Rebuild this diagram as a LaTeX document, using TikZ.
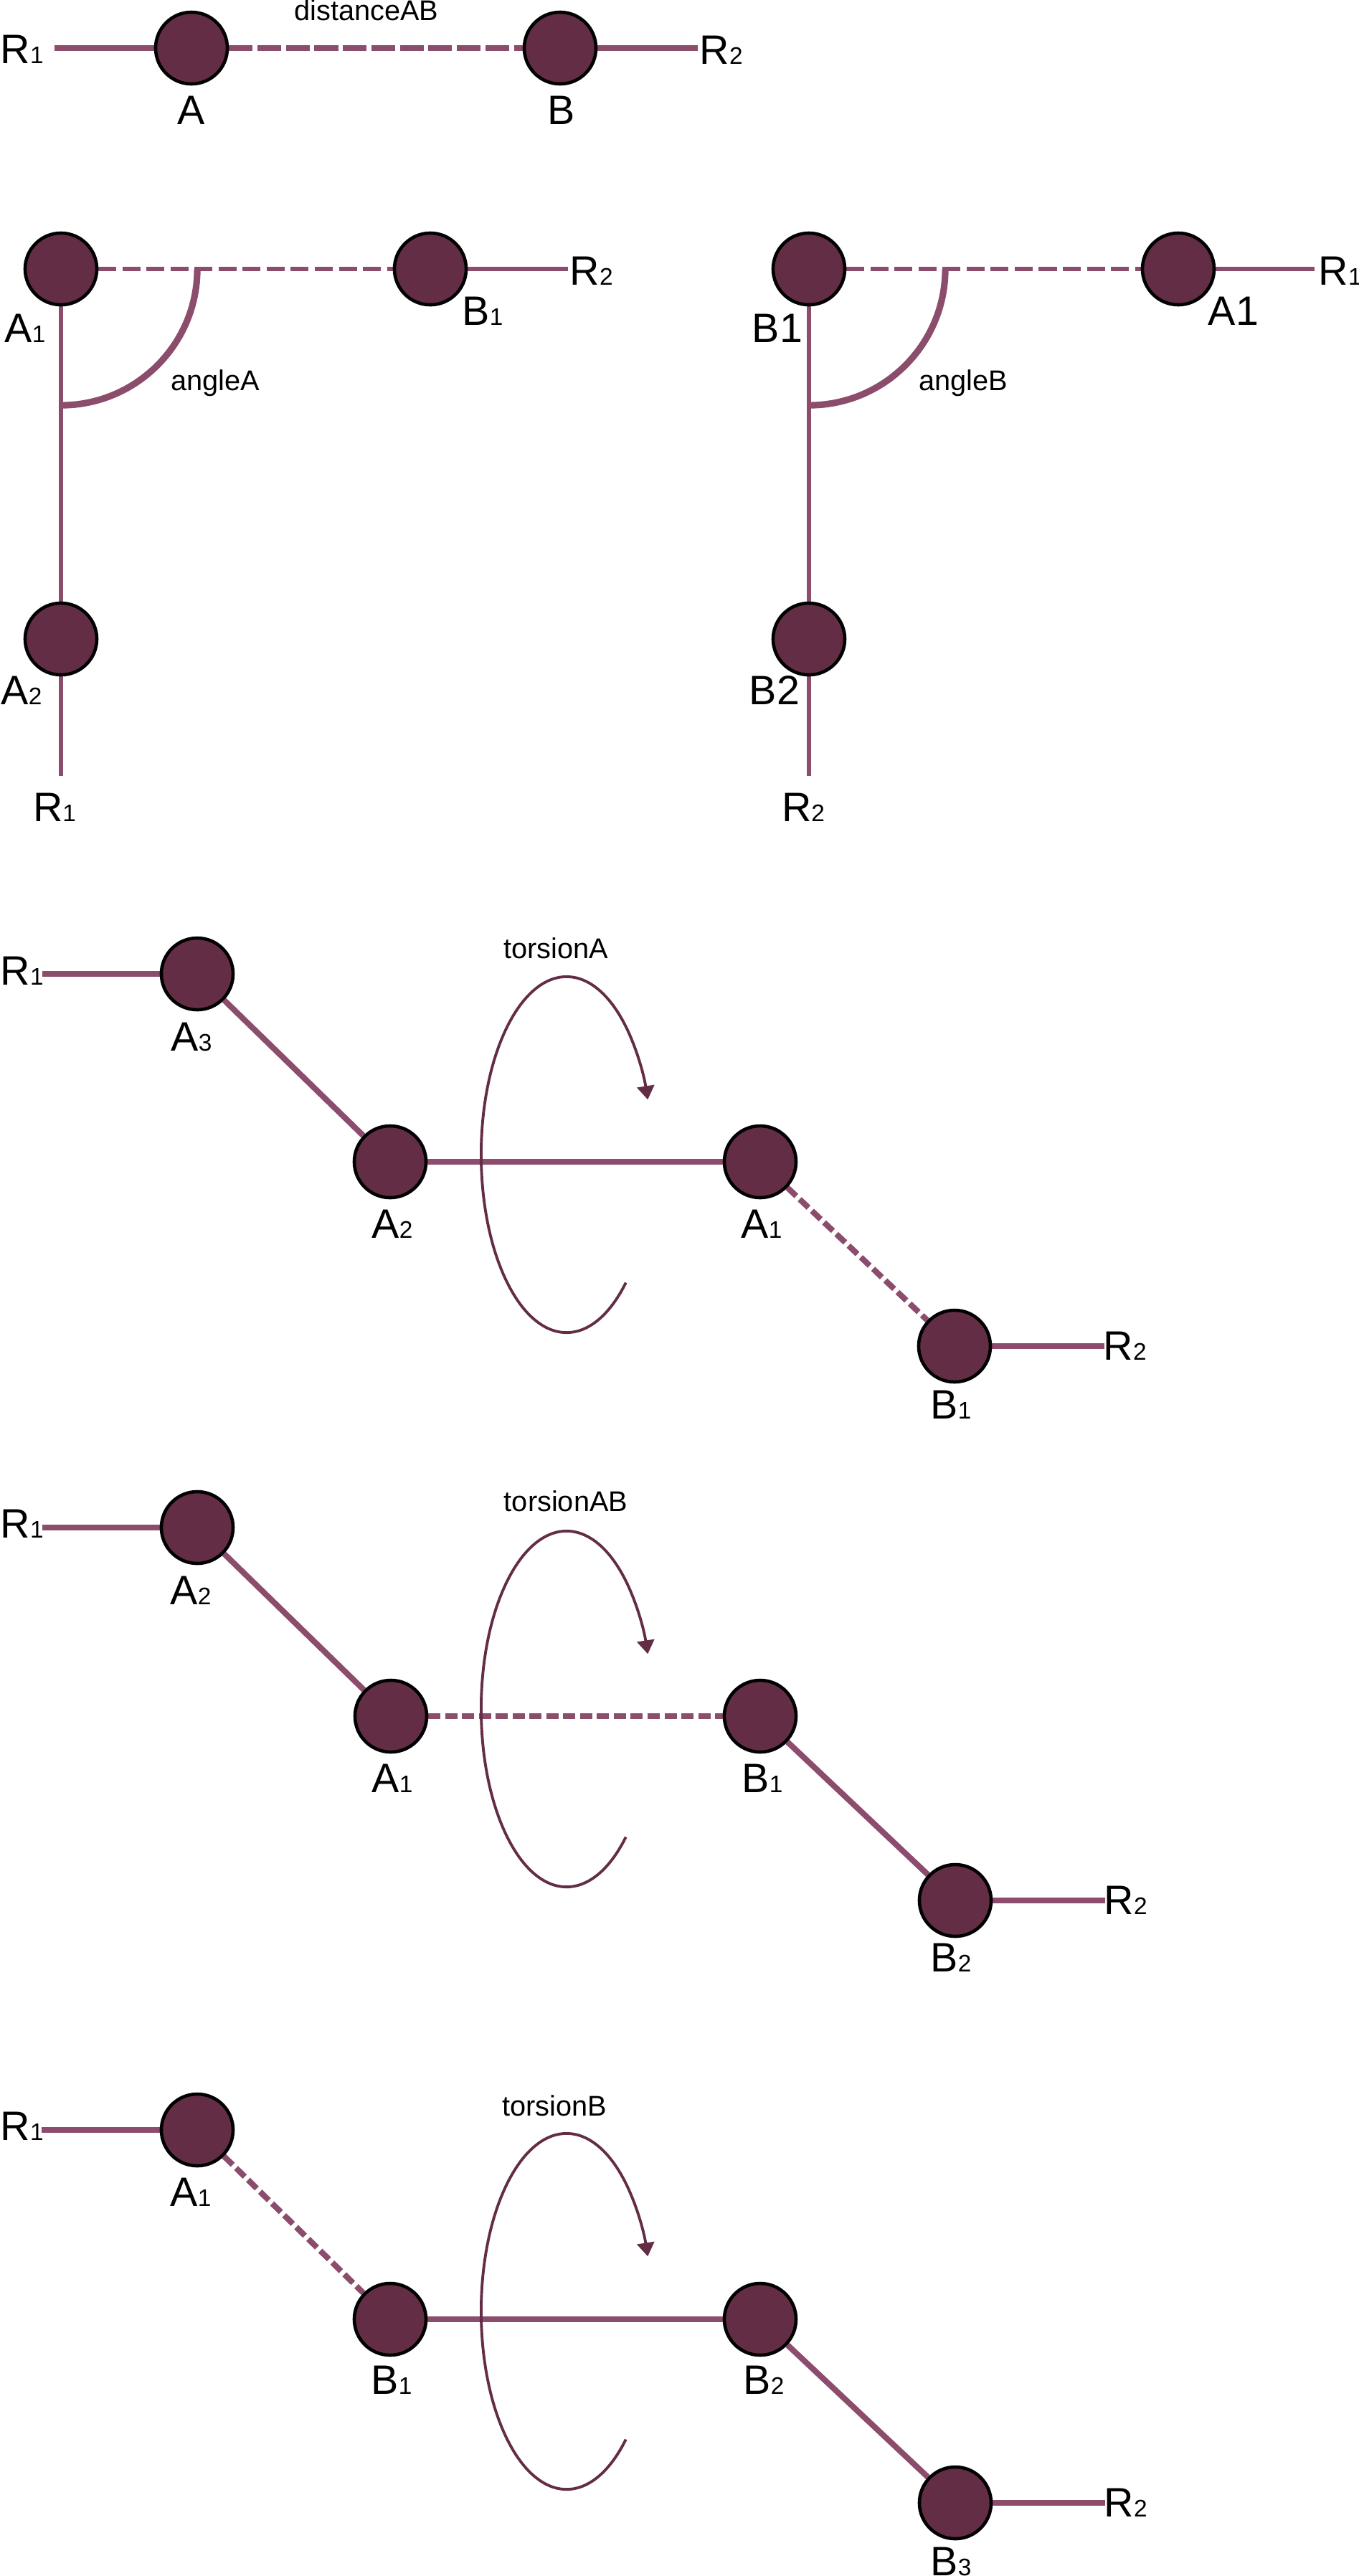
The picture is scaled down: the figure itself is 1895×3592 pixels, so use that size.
\documentclass[tikz,border=0pt]{standalone}
\usepackage{fontspec}
\setmainfont{Liberation Sans}
\usetikzlibrary{arrows.meta, backgrounds}
\definecolor{atomfill}{RGB}{99,45,70}
\definecolor{bondcol}{RGB}{140,76,108}
\newcommand{\sbs}[1]{{\fontsize{9.5}{10}\selectfont #1}}

\begin{document}
\begin{tikzpicture}[x=0.01cm, y=0.01cm,
	atom/.style={circle, draw=black, line width=1.3pt, fill=atomfill, minimum size=1cm, inner sep=0pt},
	bond/.style={draw=bondcol, line width=2.3pt},
	thin bond/.style={draw=bondcol, line width=1.6pt},
	long dashes/.style={dash pattern=on 0.33cm off 0.067cm},
	mid dashes/.style={dash pattern=on 0.25cm off 0.085cm},
	short dashes/.style={dash pattern=on 0.17cm off 0.065cm},
	angle mark/.style={draw=bondcol, line width=2.6pt},
	twist/.style={draw=atomfill, line width=1.1pt, -{Triangle[length=0.19cm, width=0.24cm]}},
	lbl/.style={font=\fontsize{16.3}{18}\selectfont, inner sep=0pt, anchor=base},
	note/.style={font=\fontsize{11.3}{13}\selectfont, inner sep=0pt, anchor=base}]
	\useasboundingbox (0,0) rectangle (1895,-3592);

	% distanceAB
	\node[atom] (dA) at (267,-67) {};
	\node[atom] (dB) at (781,-67) {};
	\coordinate (dR1) at (76,-67);
	\coordinate (dR2) at (973,-67);
	\node[lbl, anchor=base west] (dR1l) at (0,-88) {R\sbs{1}};
	\node[lbl] (dAl) at (267,-173) {A};
	\node[lbl] (dBl) at (783,-173) {B};
	\node[lbl, anchor=base west] (dR2l) at (975,-89) {R\sbs{2}};
	\node[note] (dist) at (511,-28) {distanceAB};
	\begin{scope}[on background layer]
		\draw[bond] (dR1) -- (dA);
		\draw[bond, long dashes] (dA) -- (dB);
		\draw[bond] (dB) -- (dR2);
	\end{scope}

	% angleA
	\node[atom] (aA1) at (85,-375) {};
	\node[atom] (aB1) at (600,-375) {};
	\node[atom] (aA2) at (85,-891) {};
	\coordinate (aR2) at (792,-375);
	\coordinate (aR1) at (85,-1082);
	\node[lbl] (aA1l) at (35,-477) {A\sbs{1}};
	\node[lbl] (aB1l) at (673,-453) {B\sbs{1}};
	\node[lbl] (aA2l) at (30,-982) {A\sbs{2}};
	\node[lbl, anchor=base west] (aR2l) at (794,-397) {R\sbs{2}};
	\node[lbl] (aR1l) at (76,-1145) {R\sbs{1}};
	\node[note] (angA) at (300,-544) {angleA};
	\begin{scope}[on background layer]
		\draw[thin bond, mid dashes] (aA1) -- (aB1);
		\draw[thin bond] (aB1) -- (aR2);
		\draw[thin bond] (aA1) -- (aA2);
		\draw[thin bond] (aA2) -- (aR1);
	\end{scope}
	\draw[angle mark] (aA1.center) ++(1.9cm,0) arc[start angle=0, end angle=-90, radius=1.9cm];

	% angleB
	\node[atom] (bB1) at (1128,-375) {};
	\node[atom] (bA1) at (1643,-375) {};
	\node[atom] (bB2) at (1128,-891) {};
	\coordinate (bR1) at (1833,-375);
	\coordinate (bR2) at (1128,-1082);
	\node[lbl] (bB1l) at (1084,-477) {B1};
	\node[lbl] (bA1l) at (1720,-453) {A1};
	\node[lbl] (bB2l) at (1080,-982) {B2};
	\node[lbl, anchor=base west] (bR1l) at (1838,-397) {R\sbs{1}};
	\node[lbl] (bR2l) at (1120,-1145) {R\sbs{2}};
	\node[note] (angB) at (1343,-544) {angleB};
	\begin{scope}[on background layer]
		\draw[thin bond, mid dashes] (bB1) -- (bA1);
		\draw[thin bond] (bA1) -- (bR1);
		\draw[thin bond] (bB1) -- (bB2);
		\draw[thin bond] (bB2) -- (bR2);
	\end{scope}
	\draw[angle mark] (bB1.center) ++(1.9cm,0) arc[start angle=0, end angle=-90, radius=1.9cm];

	% torsionA
	\node[atom] (taA3) at (275,-1358) {};
	\node[atom] (taA2) at (544,-1620) {};
	\node[atom] (taA1) at (1060,-1620) {};
	\node[atom] (taB1) at (1331,-1877) {};
	\coordinate (taR1) at (59,-1358);
	\coordinate (taR2) at (1540,-1877);
	\coordinate (taAxis) at (790,-1610);
	\node[lbl, anchor=base west] (taR1l) at (0,-1373) {R\sbs{1}};
	\node[lbl] (taA3l) at (267,-1465) {A\sbs{3}};
	\node[lbl] (taA2l) at (547,-1726) {A\sbs{2}};
	\node[lbl] (taA1l) at (1062,-1726) {A\sbs{1}};
	\node[lbl] (taB1l) at (1326,-1978) {B\sbs{1}};
	\node[lbl, anchor=base west] (taR2l) at (1538,-1896) {R\sbs{2}};
	\node[note] (torA) at (775,-1336) {torsionA};
	\begin{scope}[on background layer]
		\draw[bond] (taR1) -- (taA3);
		\draw[bond] (taA3) -- (taA2);
		\draw[bond] (taA2) -- (taA1);
		\draw[bond, short dashes] (taA1) -- (taB1);
		\draw[bond] (taB1) -- (taR2);
	\end{scope}
	\draw[twist] (taAxis) ++(-46:1.19cm and 2.48cm) arc[start angle=-46, end angle=-342, x radius=1.19cm, y radius=2.48cm];

	% torsionAB
	\node[atom] (tabA2) at (275,-2130) {};
	\node[atom] (tabA1) at (545,-2393) {};
	\node[atom] (tabB1) at (1060,-2393) {};
	\node[atom] (tabB2) at (1332,-2650) {};
	\coordinate (tabR1) at (59,-2130);
	\coordinate (tabR2) at (1541,-2650);
	\coordinate (tabAxis) at (790,-2383);
	\node[lbl, anchor=base west] (tabR1l) at (0,-2144) {R\sbs{1}};
	\node[lbl] (tabA2l) at (266,-2237) {A\sbs{2}};
	\node[lbl] (tabA1l) at (547,-2499) {A\sbs{1}};
	\node[lbl] (tabB1l) at (1063,-2499) {B\sbs{1}};
	\node[lbl] (tabB2l) at (1326,-2749) {B\sbs{2}};
	\node[lbl, anchor=base west] (tabR2l) at (1539,-2669) {R\sbs{2}};
	\node[note] (torAB) at (789,-2107) {torsionAB};
	\begin{scope}[on background layer]
		\draw[bond] (tabR1) -- (tabA2);
		\draw[bond] (tabA2) -- (tabA1);
		\draw[bond, short dashes] (tabA1) -- (tabB1);
		\draw[bond] (tabB1) -- (tabB2);
		\draw[bond] (tabB2) -- (tabR2);
	\end{scope}
	\draw[twist] (tabAxis) ++(-46:1.19cm and 2.48cm) arc[start angle=-46, end angle=-342, x radius=1.19cm, y radius=2.48cm];

	% torsionB
	\node[atom] (tbA1) at (275,-2970) {};
	\node[atom] (tbB1) at (544,-3234) {};
	\node[atom] (tbB2) at (1060,-3234) {};
	\node[atom] (tbB3) at (1332,-3490) {};
	\coordinate (tbR1) at (58,-2970);
	\coordinate (tbR2) at (1541,-3490);
	\coordinate (tbAxis) at (790,-3223);
	\node[lbl, anchor=base west] (tbR1l) at (0,-2984) {R\sbs{1}};
	\node[lbl] (tbA1l) at (266,-3076) {A\sbs{1}};
	\node[lbl] (tbB1l) at (546,-3338) {B\sbs{1}};
	\node[lbl] (tbB2l) at (1065,-3338) {B\sbs{2}};
	\node[lbl] (tbB3l) at (1326,-3591) {B\sbs{3}};
	\node[lbl, anchor=base west] (tbR2l) at (1539,-3509) {R\sbs{2}};
	\node[note] (torB) at (773,-2950) {torsionB};
	\begin{scope}[on background layer]
		\draw[bond] (tbR1) -- (tbA1);
		\draw[bond, short dashes] (tbA1) -- (tbB1);
		\draw[bond] (tbB1) -- (tbB2);
		\draw[bond] (tbB2) -- (tbB3);
		\draw[bond] (tbB3) -- (tbR2);
	\end{scope}
	\draw[twist] (tbAxis) ++(-46:1.19cm and 2.48cm) arc[start angle=-46, end angle=-342, x radius=1.19cm, y radius=2.48cm];
\end{tikzpicture}
\end{document}
